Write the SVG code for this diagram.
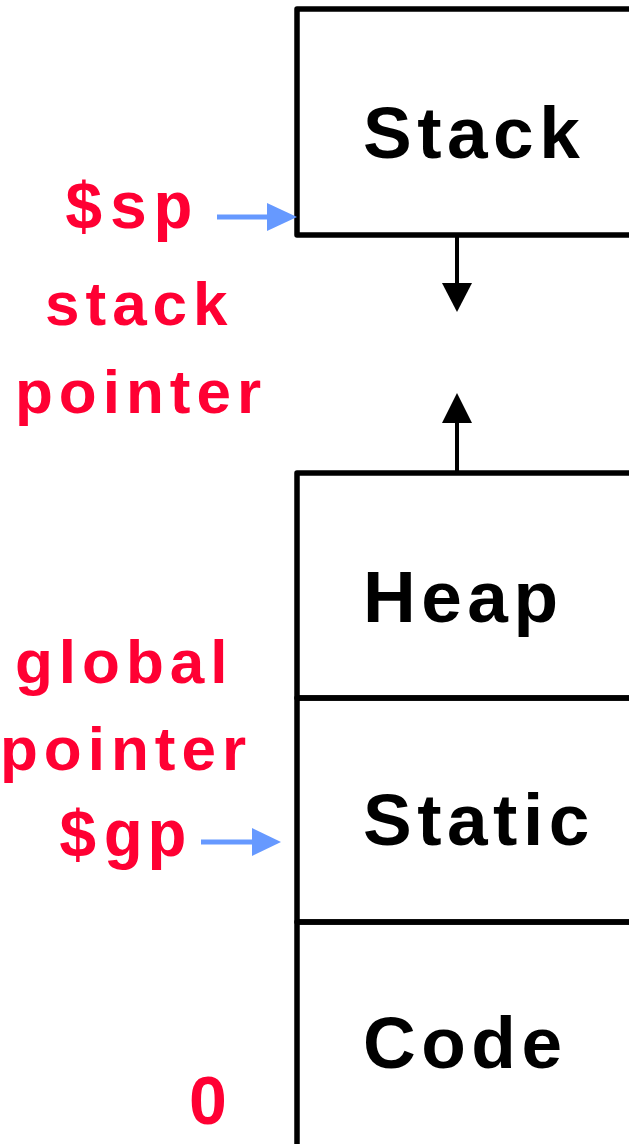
<svg xmlns="http://www.w3.org/2000/svg" width="629" height="1144" viewBox="0 0 629 1144">
  <style>
    .box { fill: none; stroke: #000; stroke-width: 5.5; stroke-linejoin: round; }
    .blabel { font-family: "Liberation Sans", Arial, sans-serif; font-weight: bold; font-size: 73px; letter-spacing: 5.5px; fill: #000; }
    .rlabel { font-family: "Liberation Sans", Arial, sans-serif; font-weight: bold; font-size: 62px; letter-spacing: 6px; fill: #ff0033; }
    .reg { font-family: "Liberation Mono", "Courier New", monospace; font-weight: bold; font-size: 66px; letter-spacing: 5px; fill: #ff0033; }
    .shaft { stroke: #000; stroke-width: 4; }
    .ptr { stroke: #6699ff; stroke-width: 5; }
  </style>
  <rect width="629" height="1144" fill="#fff"/>
  <g id="stack">
    <rect class="box" x="297" y="9" width="420" height="226"/>
    <text class="blabel" x="363" y="158">Stack</text>
  </g>
  <g id="heap">
    <rect class="box" x="297" y="473" width="420" height="225"/>
    <text class="blabel" x="363" y="622">Heap</text>
  </g>
  <g id="static">
    <rect class="box" x="297" y="698" width="420" height="224"/>
    <text class="blabel" x="363" y="845">Static</text>
  </g>
  <g id="code">
    <rect class="box" x="297" y="922" width="420" height="260"/>
    <text class="blabel" x="363" y="1068">Code</text>
  </g>
  <g id="sp-label">
    <text class="reg" x="64" y="228">$sp</text>
    <text class="rlabel" x="45" y="325">stack</text>
    <text class="rlabel" x="15" y="413">pointer</text>
  </g>
  <g id="gp-label">
    <text class="rlabel" x="15" y="683">global</text>
    <text class="rlabel" x="0" y="770">pointer</text>
    <text class="reg" x="58" y="856">$gp</text>
  </g>
  <g id="zero-label">
    <text class="rlabel" x="189" y="1124" style="font-size:68px">0</text>
  </g>
  <g id="connectors">
    <line class="shaft" x1="457" y1="235" x2="457" y2="285"/>
    <polygon points="442,283 472,283 457,312" fill="#000"/>
    <line class="shaft" x1="457" y1="473" x2="457" y2="421"/>
    <polygon points="442,423 472,423 457,393" fill="#000"/>
    <line class="ptr" x1="217" y1="217" x2="269" y2="217"/>
    <polygon points="267,203 297,217 267,231" fill="#6699ff"/>
    <line class="ptr" x1="201" y1="842" x2="254" y2="842"/>
    <polygon points="252,828 281,842 252,856" fill="#6699ff"/>
  </g>
</svg>
